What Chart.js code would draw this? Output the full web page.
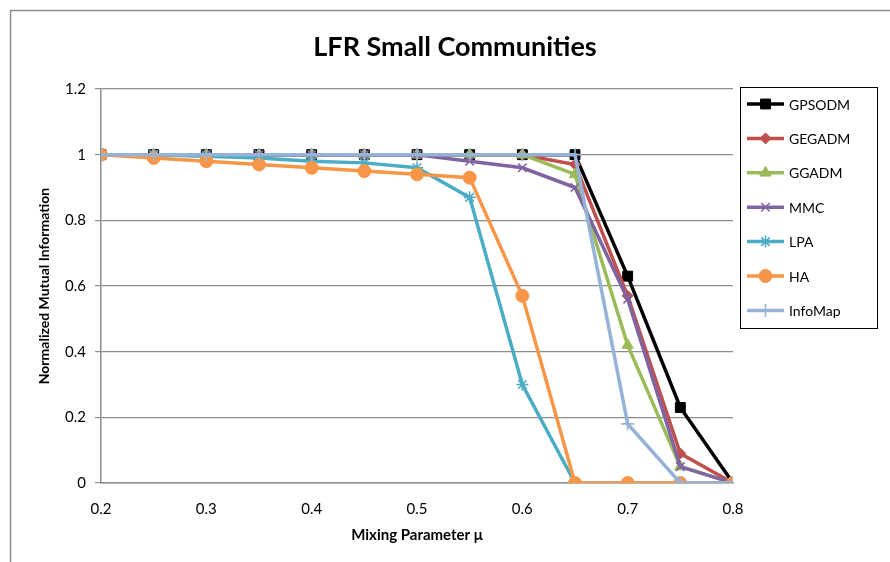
<!DOCTYPE html>
<html>
<head>
<meta charset="utf-8">
<script src="https://cdn.jsdelivr.net/npm/chart.js@4/dist/chart.umd.min.js"></script>
<style>
  html, body { margin: 0; padding: 0; background: #fff; }
  #wrap { width: 890px; height: 562px; position: relative; }
</style>
</head>
<body>
<div id="wrap"><canvas id="lfrChart" width="890" height="562"></canvas></div>
<script>
// mixing parameter values (x)
const mu = [0.2, 0.25, 0.3, 0.35, 0.4, 0.45, 0.5, 0.55, 0.6, 0.65, 0.7, 0.75, 0.8];
const xTicks = [0.2, 0.3, 0.4, 0.5, 0.6, 0.7, 0.8];
const yTicks = [0, 0.2, 0.4, 0.6, 0.8, 1, 1.2];

const seriesNames = ['GPSODM', 'GEGADM', 'GGADM', 'MMC', 'LPA', 'HA', 'InfoMap'];
const gpsodm  = [1, 1, 1, 1, 1, 1, 1, 1, 1, 1, 0.63, 0.23, 0];
const gegadm  = [1, 1, 1, 1, 1, 1, 1, 1, 1, 0.97, 0.57, 0.09, 0];
const ggadm   = [1, 1, 1, 1, 1, 1, 1, 1, 1, 0.94, 0.42, 0.05, 0];
const mmc     = [1, 1, 1, 1, 1, 1, 1, 0.98, 0.96, 0.9, 0.56, 0.05, 0];
const lpa     = [1, 1, 0.995, 0.99, 0.98, 0.975, 0.96, 0.87, 0.3, 0, 0, 0, 0];
const ha      = [1, 0.99, 0.98, 0.97, 0.96, 0.95, 0.94, 0.93, 0.57, 0, 0, 0, 0];
const infomap = [1, 1, 1, 1, 1, 1, 1, 1, 1, 1, 0.18, 0, 0];

const seriesValues = [gpsodm, gegadm, ggadm, mmc, lpa, ha, infomap];
const colors = ['#000000', '#C0504D', '#9BBB59', '#8064A2', '#4BACC6', '#F79646', '#95B3D7'];
const markers = ['rect', 'rectRot', 'triangle', 'crossRot', 'star', 'circle', 'cross'];
const markerSize = [7, 5.5, 6.5, 6, 6, 6.5, 6.5];

const FONT = "Lato, 'Open Sans', sans-serif";
const PLOT = { left: 101, right: 733, top: 89, bottom: 483 };

const datasets = seriesNames.map((name, i) => {
    const stroked = ['crossRot', 'star', 'cross'].includes(markers[i]);
    return {
        label: name,
        data: mu.map((x, j) => ({ x, y: seriesValues[i][j] })),
        borderColor: colors[i],
        backgroundColor: colors[i],
        borderWidth: 3.5,
        pointStyle: markers[i],
        pointRadius: markerSize[i],
        pointBorderWidth: stroked ? 1.6 : 1,
        pointBackgroundColor: colors[i],
        pointBorderColor: colors[i],
        tension: 0,
        order: seriesNames.length - i
    };
});

// frame, title and line+marker legend
const decor = {
    id: 'decor',
    beforeDraw(chart) {
        const c = chart.ctx;
        c.save();
        c.fillStyle = '#fff';
        c.fillRect(0, 0, chart.width, chart.height);
        c.strokeStyle = '#8c8c8c';
        c.lineWidth = 1.5;
        c.strokeRect(10.5, 10.5, chart.width + 20, chart.height + 20);
        c.restore();
    },
    afterDraw(chart) {
        const c = chart.ctx;
        c.save();
        c.fillStyle = '#000';
        c.font = "bold 27px " + FONT;
        c.textAlign = 'center';
        c.textBaseline = 'middle';
        c.fillText('LFR Small Communities', 455, 47);

        // legend box
        c.strokeStyle = '#000';
        c.lineWidth = 1;
        c.strokeRect(740.5, 87.5, 137, 241);
        c.font = "14px " + FONT;
        c.textAlign = 'left';
        chart.data.datasets.forEach((ds, i) => {
            const y = 104 + i * 34.4;
            c.strokeStyle = ds.borderColor;
            c.fillStyle = ds.borderColor;
            c.lineWidth = 3.5;
            c.beginPath();
            c.moveTo(747, y);
            c.lineTo(784, y);
            c.stroke();
            c.lineWidth = ds.pointBorderWidth;
            Chart.helpers.drawPoint(c, {
                pointStyle: ds.pointStyle,
                radius: ds.pointRadius,
                borderWidth: ds.pointBorderWidth,
                rotation: 0
            }, 765.5, y);
            c.fillStyle = '#000';
            c.fillText(ds.label, 789, y + 1);
        });
        c.restore();
    }
};

new Chart(document.getElementById('lfrChart'), {
    type: 'line',
    data: { datasets },
    options: {
        responsive: false,
        animation: false,
        layout: { padding: { left: 10, top: PLOT.top, right: 890 - PLOT.right, bottom: 0 } },
        plugins: { legend: { display: false }, title: { display: false }, tooltip: { enabled: false } },
        scales: {
            x: {
                type: 'linear',
                min: 0.2, max: 0.8,
                afterFit: s => { s.height = 562 - PLOT.bottom; },
                afterBuildTicks: s => { s.ticks = xTicks.map(v => ({ value: v })); },
                ticks: {
                    color: '#000', padding: 17,
                    font: { family: FONT, size: 15 },
                    callback: v => v.toFixed(1)
                },
                grid: { drawOnChartArea: false, drawTicks: false },
                border: { display: true, color: '#8c8c8c', width: 1.5 },
                title: {
                    display: true, text: 'Mixing Parameter μ', color: '#000',
                    font: { family: FONT, size: 15, weight: 'bold' },
                    padding: { top: 0, bottom: 18 }
                }
            },
            y: {
                min: 0, max: 1.2,
                afterFit: s => { s.width = PLOT.left - 10; },
                afterBuildTicks: s => { s.ticks = yTicks.map(v => ({ value: v })); },
                ticks: {
                    color: '#000', padding: 9,
                    font: { family: FONT, size: 15 },
                    callback: v => String(Math.round(v * 10) / 10)
                },
                grid: { color: '#8c8c8c', lineWidth: 1.2, tickLength: 6 },
                border: { display: true, color: '#8c8c8c', width: 1.5 },
                title: {
                    display: true, text: 'Normalized Mutual Information', color: '#000',
                    font: { family: FONT, size: 14, weight: 'bold' },
                    padding: { top: 26, bottom: 0 }
                }
            }
        }
    },
    plugins: [decor]
});
</script>
</body>
</html>
